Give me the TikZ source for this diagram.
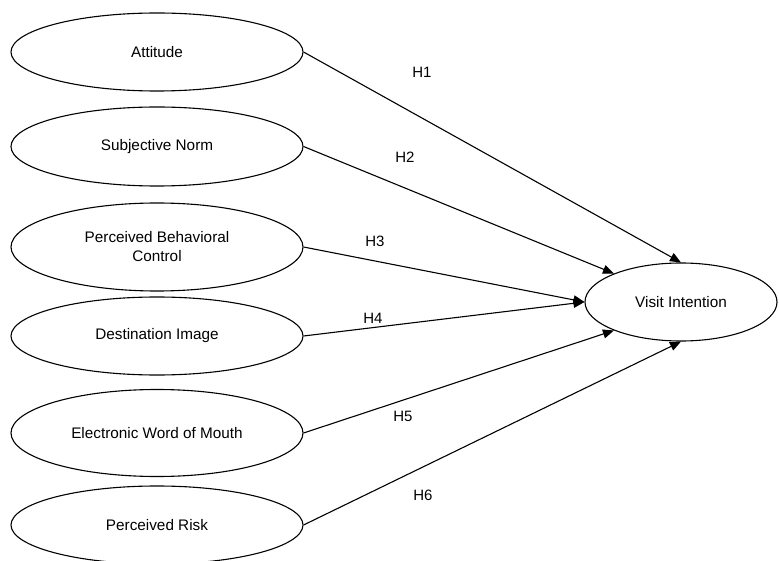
\documentclass[tikz,border=0pt]{standalone}
\usepackage{fontspec}
\setmainfont{Liberation Sans}
\usetikzlibrary{shapes.geometric,arrows.meta}
\begin{document}
\begin{tikzpicture}[x=1pt,y=-1pt,
  construct/.style={draw=black,line width=1.1pt,ellipse,inner sep=0pt,
    minimum width=292pt,minimum height=78pt,align=center,
    font=\fontsize{15.3}{18}\selectfont},
  hyp/.style={font=\fontsize{15}{18}\selectfont,inner sep=0pt},
  path/.style={draw=black,line width=1.1pt,-{Triangle[length=11pt,width=9pt]}}]
\useasboundingbox (0,0) rectangle (779,561);
\node[construct] (att) at (157,52) {Attitude};
\node[construct,minimum height=79pt] (sn) at (157,146.5) {Subjective Norm};
\node[construct,minimum height=88pt] (pbc) at (157,247) {Perceived Behavioral\\[1pt]Control};
\node[construct] (di) at (157,336) {Destination Image};
\node[construct,minimum height=87pt] (ewom) at (157,433) {Electronic Word of Mouth};
\node[construct] (pr) at (157,525) {Perceived Risk};
\node[construct,minimum width=192pt,minimum height=78pt] (vi) at (681,302) {Visit Intention};
\draw[path] (att.east) -- (vi.north);
\draw[path] (sn.east) -- (vi.157);
\draw[path] (pbc.east) -- (vi.west);
\draw[path] (di.east) -- (vi.west);
\draw[path] (ewom.east) -- (vi.203);
\draw[path] (pr.east) -- (vi.south);
\node[hyp] (h1) at (422,72) {H1};
\node[hyp] (h2) at (405,157) {H2};
\node[hyp] (h3) at (375,241) {H3};
\node[hyp] (h4) at (373,318) {H4};
\node[hyp] (h5) at (403,416) {H5};
\node[hyp] (h6) at (423,495) {H6};
\end{tikzpicture}
\end{document}
